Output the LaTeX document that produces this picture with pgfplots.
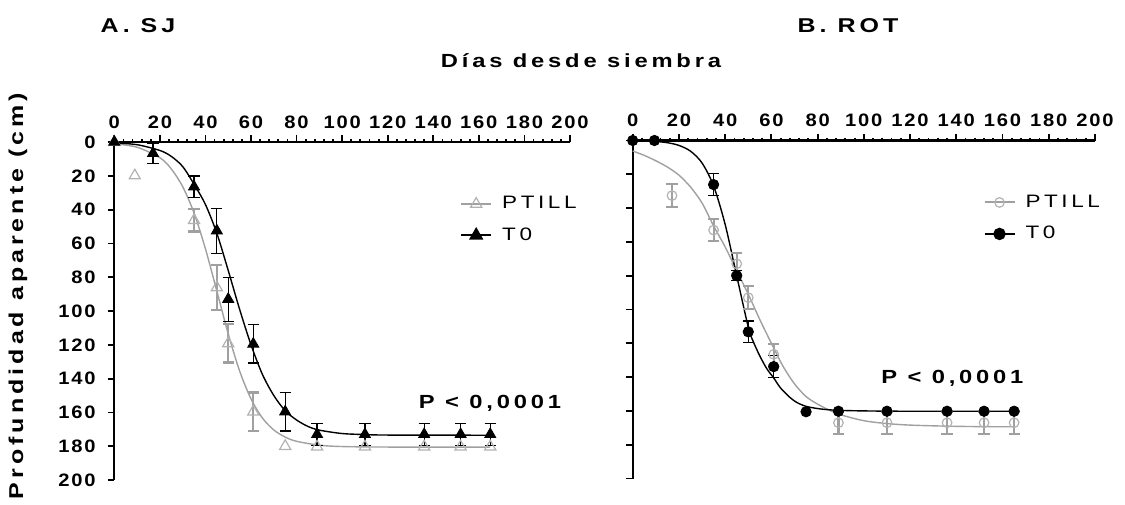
\documentclass[border=0pt]{standalone}
\usepackage{pgfplots}
\pgfplotsset{compat=1.18}
\usepackage{fontspec}
\setmainfont{Liberation Sans}
\newfontfamily\pf[FakeStretch=1.25,LetterSpace=20]{Liberation Sans}
\newfontfamily\pft[FakeStretch=1.12,LetterSpace=10]{Liberation Sans}
\definecolor{gline}{RGB}{160,160,160}
\definecolor{gmark}{RGB}{178,178,178}

\pgfplotsset{
  panel/.style={
    scale only axis, height=169pt,
    xmin=0, xmax=200, ymin=0, ymax=200, y dir=reverse,
    axis x line*=top, axis y line*=left,
    xtick={0,20,...,200}, ytick={0,20,...,200},
    minor x tick num=4,
    tick align=outside,
    major tick length=3.3pt, minor tick length=1.3pt,
    axis line style={line width=1.1pt},
    tick style={line width=0.9pt, black},
    tick label style={font=\pft\bfseries\fontsize{9}{11}\selectfont},
    yticklabel style={xshift=-2.5pt},
    /pgf/number format/assume math mode=true,
    clip=false,
    legend image code/.code={\draw[mark repeat=2,mark phase=2] plot coordinates {(0pt,0pt)(7.5pt,0pt)(15pt,0pt)};},
    legend style={draw=none, fill=none, font=\pf\fontsize{9}{10}\selectfont,
      anchor=west, row sep=4pt, legend cell align=left,
      /tikz/every odd column/.append style={column sep=3pt}},
  },
  blackbar/.style={error bars/.cd, y dir=both, y explicit,
    error bar style={line width=0.6pt, black},
    error mark options={rotate=90, mark size=2.8pt, line width=0.6pt, black}},
  greybar/.style={error bars/.cd, y dir=both, y explicit,
    error bar style={line width=1.1pt, gline},
    error mark options={rotate=90, mark size=2.8pt, line width=1.1pt, gline}},
}

\begin{document}
\begin{tikzpicture}
\useasboundingbox (0,0) rectangle (562.5pt,252pt);

% A. SJ
\begin{axis}[panel, at={(57.15pt,12pt)}, anchor=south west, width=227.85pt,
  legend style={at={(axis cs:149,46)}}]
\addplot[gline, line width=0.7pt, smooth, forget plot] coordinates {
  (0,1)(10,3.1)(20,9.3)(25,15.9)(30,26.4)(35,42)(40,63.2)(45,88.2)(50,113.5)
  (55,135.5)(60,152)(65,163.3)(70,170.4)(75,174.6)(80,177.1)(90,179.4)
  (100,180.2)(120,180.5)(165,180.5)};
\addplot[black, line width=0.7pt, smooth, forget plot] coordinates {
  (0,0.5)(10,1.6)(20,5)(25,8.5)(30,14.5)(35,25)(40,37)(45,54)(50,76)(55,99)
  (60,120)(65,137.5)(70,150)(75,159)(80,164.5)(85,168.3)(90,170.5)
  (100,172.5)(110,173.1)(120,173.4)(165,173.5)};
\addplot[forget plot, only marks, mark=triangle, mark size=3.2pt, mark options={gmark, line width=0.6pt}, greybar]
  coordinates {(35,46.3) +- (0,6.7) (45,86.1) +- (0,13.3) (50,119.2) +- (0,11.3) (61,159.6) +- (0,11.4)};
\addplot[forget plot, only marks, mark=triangle, mark size=3.2pt, mark options={gmark, line width=0.6pt}]
  coordinates {(0,0)(9,19.9)(75,180)(89,180.3)(110,180.3)(136,180.3)(152,180.3)(165,180.3)};
\addplot[forget plot, only marks, mark=triangle*, mark size=3.2pt, mark options={black}, blackbar]
  coordinates {(17,6.7) +- (0,5.9) (35,26.5) +- (0,6.4) (45,52.5) +- (0,13.3) (50,93) +- (0,13)
  (61,119.5) +- (0,11.3) (75,159.6) +- (0,11.4) (89,173) +- (0,6.6) (110,173) +- (0,6.6)
  (136,173) +- (0,6.6) (152,173) +- (0,6.6) (165,173) +- (0,6.6)};
\addplot[forget plot, only marks, mark=triangle*, mark size=3.2pt, mark options={black}]
  coordinates {(0,0)};
\addlegendimage{gline, line width=1pt, mark=triangle, mark size=3.2pt, mark options={gmark, line width=0.6pt, fill=white}}
\addlegendentry{PTILL}
\addlegendimage{black, line width=1pt, mark=triangle*, mark size=3.2pt}
\addlegendentry{T0}
\node[anchor=west, font=\pf\bfseries\fontsize{9.5}{12}\selectfont] at (axis cs:130.6,154.4) {P < 0,0001};
\end{axis}

% B. ROT
\begin{axis}[panel, at={(316.35pt,12.75pt)}, anchor=south west, width=231.15pt,
  yticklabels={}, legend style={at={(axis cs:149,46)}}]
\addplot[gline, line width=0.7pt, smooth, forget plot] coordinates {
  (0,6.2)(5,8.8)(10,12)(15,15.7)(20,20.5)(25,27.5)(30,37)(35,50.5)(40,63)
  (45,77)(50,91)(55,106)(60,120)(65,133.5)(70,144)(75,151.5)(80,156)(85,159.5)
  (90,162.3)(100,165.8)(110,167.5)(120,168.4)(135,169)(150,169.3)(165,169.4)};
\addplot[black, line width=0.7pt, smooth, forget plot] coordinates {
  (0,0.1)(10,0.6)(15,1.3)(20,2.9)(25,6.3)(30,13.3)(35,26.9)(40,49.7)(45,80.1)
  (50,110.5)(52,118.5)(55,127.5)(58,135)(61,140.5)(64,146.5)(68,152)(71,155)
  (75,157.3)(81,158.8)(88,159.6)(100,160)(120,160.2)(165,160.2)};
\addplot[forget plot, only marks, mark=*, mark size=2.6pt, mark options={black}, blackbar]
  coordinates {(35,26.1) +- (0,6.4) (45,80) +- (0,3) (50,113.2) +- (0,6.4) (61,133.8) +- (0,6.6)};
\addplot[forget plot, only marks, mark=*, mark size=2.6pt, mark options={black}]
  coordinates {(0,0)(9.4,0)(75,160.5)(89,160.2)(110,160.2)(136,160.2)(152,160.2)(165,160.2)};
\addplot[forget plot, only marks, mark=o, mark size=2.4pt, mark options={gmark, line width=0.6pt}, greybar]
  coordinates {(17,32.6) +- (0,6.7) (35,53) +- (0,6.6) (45,73) +- (0,6.2) (50,93) +- (0,6.9)
  (61,126.5) +- (0,6.2) (89,167) +- (0,6.6) (110,167) +- (0,6.6) (136,167) +- (0,6.6)
  (152,167) +- (0,6.6) (165,167) +- (0,6.6)};
\addlegendimage{gline, line width=1pt, mark=o, mark size=2.4pt, mark options={gmark, line width=0.6pt, fill=white}}
\addlegendentry{PTILL}
\addlegendimage{black, line width=1pt, mark=*, mark size=2.6pt}
\addlegendentry{T0}
\node[anchor=west, font=\pf\bfseries\fontsize{9.5}{12}\selectfont] at (axis cs:104.5,140.5) {P < 0,0001};
\end{axis}

\node[font=\pf\bfseries\fontsize{10}{12}\selectfont] at (69pt,239pt) {A. SJ};
\node[font=\pf\bfseries\fontsize{10}{12}\selectfont] at (424pt,239pt) {B. ROT};
\node[font=\pf\bfseries\fontsize{9.5}{12}\selectfont] at (290.5pt,221.5pt) {Días desde siembra};
\node[font=\pf\bfseries\fontsize{10}{12}\selectfont, rotate=90] at (9pt,104pt) {Profundidad aparente (cm)};
\end{tikzpicture}
\end{document}
